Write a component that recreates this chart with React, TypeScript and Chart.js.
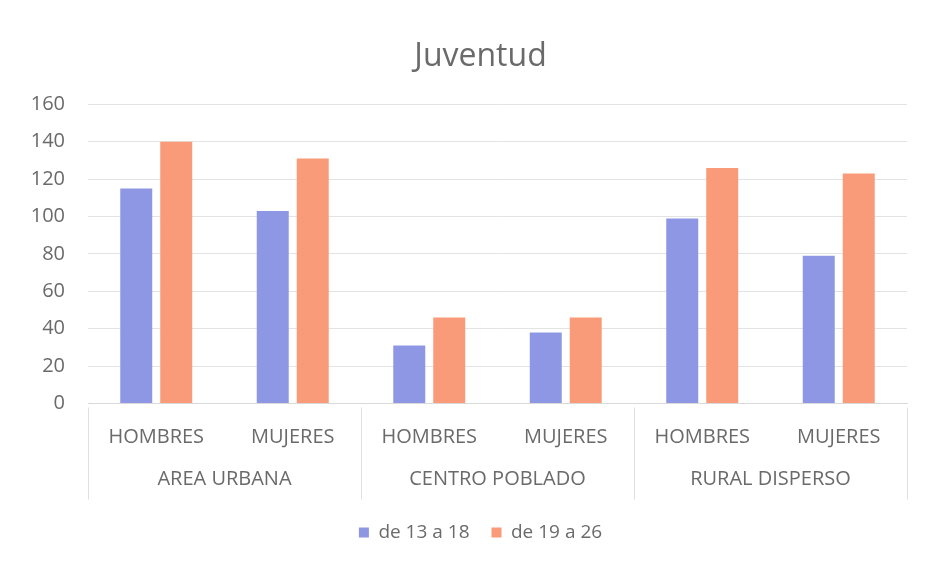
import { useEffect, useRef } from 'react';
import { Chart, registerables } from 'chart.js';

Chart.register(...registerables);

const chartTitle = 'Juventud';
const categories = ['HOMBRES', 'MUJERES', 'HOMBRES', 'MUJERES', 'HOMBRES', 'MUJERES'];
const groups = ['AREA URBANA', 'CENTRO POBLADO', 'RURAL DISPERSO'];
const groupSize = 2;
const series1Label = 'de 13 a 18';
const series1 = [115, 103, 31, 38, 99, 79];
const series2Label = 'de 19 a 26';
const series2 = [140, 131, 46, 46, 126, 123];
const yMin = 0;
const yMax = 160;
const yStep = 20;

const FONT = "'Open Sans', 'Noto Sans', sans-serif";
const TEXT = '#6a6a6a';
const GRID = '#e3e3e3';

const groupPlugin = {
  id: 'groupLabels',
  afterDraw(chart: any) {
    const x = chart.scales.x;
    const y = chart.scales.y;
    const ctx = chart.ctx;
    const n = categories.length;
    const w = (x.right - x.left) / n;
    ctx.save();
    ctx.strokeStyle = '#e0e0e0';
    ctx.lineWidth = 1;
    for (let k = 0; k <= groups.length; k++) {
      const idx = Math.min(k * groupSize, n - 1);
      const px = Math.round(x.getPixelForValue(idx) + (k * groupSize >= n ? w / 2 : -w / 2)) + 0.5;
      ctx.beginPath();
      ctx.moveTo(px, y.bottom + 4);
      ctx.lineTo(px, y.bottom + 96);
      ctx.stroke();
    }
    ctx.fillStyle = TEXT;
    ctx.font = `20px ${FONT}`;
    ctx.textAlign = 'center';
    ctx.textBaseline = 'middle';
    groups.forEach((g, k) => {
      const a = x.getPixelForValue(k * groupSize);
      const b = x.getPixelForValue(k * groupSize + groupSize - 1);
      ctx.fillText(g, (a + b) / 2, y.bottom + 76);
    });
    ctx.restore();
  },
};

export default function App() {
  const ref = useRef<HTMLCanvasElement | null>(null);
  useEffect(() => {
    document.body.style.margin = '0';
    const chart = new Chart(ref.current as HTMLCanvasElement, {
      type: 'bar',
      data: {
        labels: categories,
        datasets: [
          { label: series1Label, data: series1, backgroundColor: '#8e97e4' },
          { label: series2Label, data: series2, backgroundColor: '#f99b78' },
        ],
      },
      options: {
        animation: false,
        responsive: false,
        layout: { padding: { left: 26, right: 0, top: 0, bottom: 11 } },
        datasets: { bar: { categoryPercentage: 0.586, barPercentage: 0.8 } },
        scales: {
          x: {
            grid: { display: false, drawTicks: false },
            border: { display: true, color: '#d9d9d9' },
            ticks: { color: TEXT, font: { family: FONT, size: 20 }, padding: 22, maxRotation: 0, autoSkip: false },
            afterFit: (s: any) => { s.height = 97.5; },
          },
          y: {
            min: yMin,
            max: yMax,
            grid: { color: GRID, drawTicks: false },
            border: { display: false },
            ticks: { stepSize: yStep, color: TEXT, font: { family: FONT, size: 20 }, padding: 23 },
            afterFit: (s: any) => { s.width = 62; },
          },
          yRight: {
            position: 'right',
            min: yMin,
            max: yMax,
            grid: { display: false, drawTicks: false },
            border: { display: false },
            ticks: { display: false },
            afterFit: (s: any) => { s.width = 28; },
          },
        },
        plugins: {
          title: {
            display: true,
            text: chartTitle,
            color: TEXT,
            font: { family: FONT, size: 32, weight: 'normal' },
            padding: { top: 38, bottom: 28 },
          },
          legend: {
            position: 'bottom',
            labels: { color: TEXT, font: { family: FONT, size: 19 }, boxWidth: 10, boxHeight: 10, padding: 22 },
          },
          tooltip: { enabled: false },
        },
      },
      plugins: [groupPlugin],
    });
    return () => chart.destroy();
  }, []);
  return (
    <div style={{ width: 935, height: 563, background: '#fff' }}>
      <canvas ref={ref} width={935} height={563} style={{ display: 'block' }} />
    </div>
  );
}
